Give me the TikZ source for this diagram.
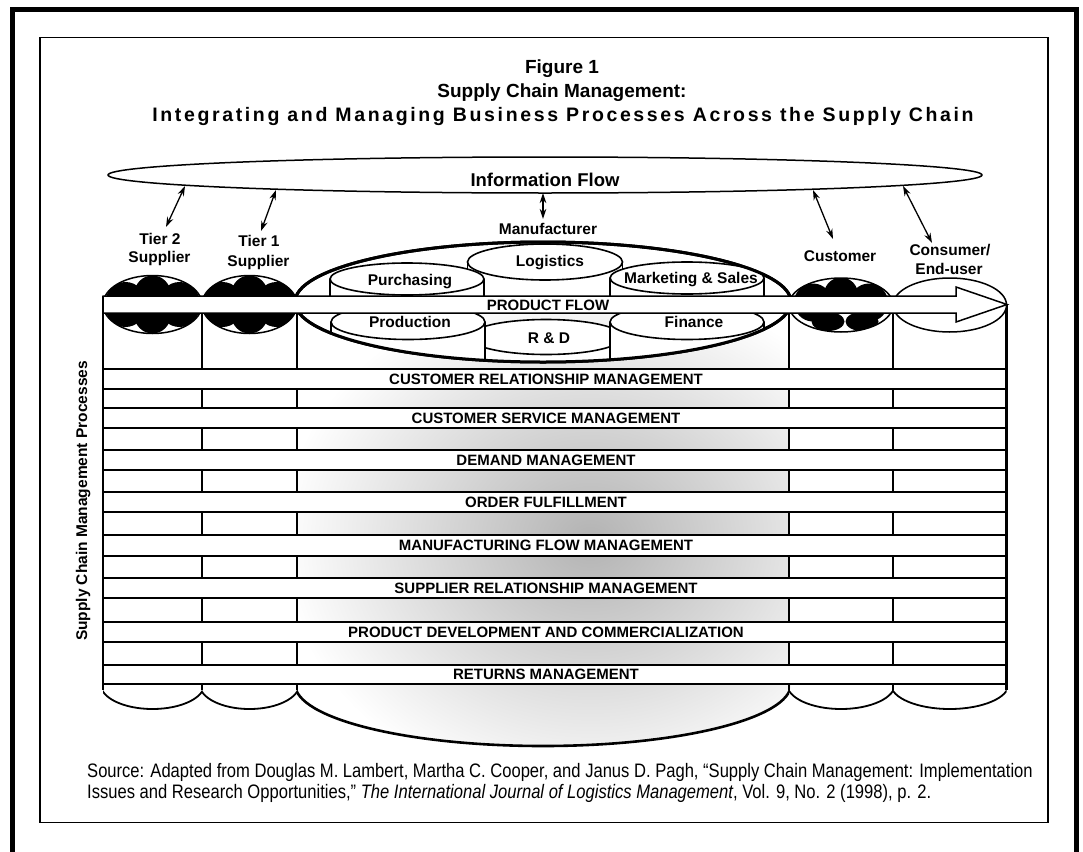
\documentclass[tikz,border=0pt]{standalone}
\usepackage{fontspec}
\setmainfont{Liberation Sans}
\newfontfamily\srcfont[FakeStretch=0.85]{Liberation Sans}
\newfontfamily\widebold[LetterSpace=13.5]{Liberation Sans}
\usetikzlibrary{arrows.meta}

\tikzset{
  ttl/.style={font=\fontsize{19}{22}\selectfont\bfseries, anchor=base, inner sep=0pt},
  lbl/.style={font=\fontsize{15.5}{18}\selectfont\bfseries, anchor=base, inner sep=0pt},
  infotxt/.style={font=\fontsize{18.5}{21}\selectfont\bfseries, anchor=base, inner sep=0pt},
  proctxt/.style={font=\fontsize{15}{17}\selectfont\bfseries, anchor=base, inner sep=0pt},
  src/.style={font=\srcfont\fontsize{19.5}{22}\selectfont, anchor=base west, inner sep=0pt},
  infoarrow/.style={{Stealth[length=10pt,width=6.5pt]}-{Stealth[length=10pt,width=6.5pt]}, line width=1.3pt},
  colline/.style={line width=1.8pt},
  thinline/.style={line width=1.5pt},
}

% column lens with dark entity blobs (supplier columns)
\newcommand{\suplens}[3]{%
  \coordinate (#3) at (#1,304.5);
  \fill[white] (#3) ellipse (#2 and 29);
  \begin{scope}
    \clip (#3) ellipse (#2 and 29);
    \fill (#1,293.5) circle (18);
    \fill ({#1-27},302) circle (20);
    \fill ({#1+27},302) circle (20);
    \fill (#1,315.5) circle (18);
    \fill ({#1-27},307) circle (20);
    \fill ({#1+27},307) circle (20);
  \end{scope}
  \draw[thinline] (#3) ellipse (#2 and 29);
}

% small cylinder: name, x, y, x radius, y radius, bottom of sides
\newcommand{\smallcyl}[6]{%
  \coordinate (#1) at (#2,#3);
  \fill[white] ({#2-#4},#3) rectangle ({#2+#4},#6);
  \draw[thinline] ({#2-#4},#3) -- ({#2-#4},#6) ({#2+#4},#3) -- ({#2+#4},#6);
  \filldraw[fill=white, line width=1.6pt] (#1) ellipse (#4 and #5);
}

\def\mfgshade{\shade[inner color=black!30, outer color=white] (590,540) ellipse (310 and 260);}

\begin{document}
\begin{tikzpicture}[x=1pt,y=-1pt]
\useasboundingbox (0,0) rectangle (1083,851);
\clip (0,0) rectangle (1083,851);

% frames
\draw[line width=5pt] (12.5,870) -- (12.5,9.5) -- (1076.5,9.5) -- (1076.5,870);
\draw[line width=1.8pt] (40.3,37.5) rectangle (1048,822.5);

% title
\node[ttl] (fig) at (562,74) {Figure 1};
\node[ttl] (ttlA) at (562,97.5) {Supply Chain Management:};
\node[ttl, font=\widebold\fontsize{19.5}{22}\selectfont\bfseries] (ttlB) at (563,121) {Integrating and Managing Business Processes Across the Supply Chain};

% information flow
\coordinate (info) at (545,175);
\draw[thinline] (info) ellipse (437 and 18);
\node[infotxt] (infot) at (545,186) {Information Flow};

% member labels
\node[lbl] (t2a) at (160,244) {Tier 2};
\node[lbl] (t2b) at (159.5,262) {Supplier};
\node[lbl] (t1a) at (259,246) {Tier 1};
\node[lbl] (t1b) at (258.5,266) {Supplier};
\node[lbl] (mfg) at (548,234.5) {Manufacturer};
\node[lbl] (cust) at (840,261) {Customer};
\node[lbl] (consa) at (950,255) {Consumer/};
\node[lbl] (consb) at (949,274) {End-user};

% information links
\coordinate (t2i) at (185,186);   \coordinate (t2l) at (166,227);
\coordinate (t1i) at (276,190);   \coordinate (t1l) at (261,231);
\coordinate (mfi) at (543,193);   \coordinate (mfl) at (543,219);
\coordinate (cui) at (813,190);   \coordinate (cul) at (833,239);
\coordinate (coi) at (903,186);   \coordinate (col) at (932,243);
\draw[infoarrow] (t2i) -- (t2l);
\draw[infoarrow] (t1i) -- (t1l);
\draw[infoarrow] (mfi) -- (mfl);
\draw[infoarrow] (cui) -- (cul);
\draw[infoarrow] (coi) -- (col);

% stippled manufacturer column
\begin{scope}\clip (297,302) rectangle (789,684); \mfgshade\end{scope}
\begin{scope}\clip (543,302) ellipse (248 and 60); \mfgshade\end{scope}
\begin{scope}\clip (543,684) ellipse (248 and 62); \mfgshade\end{scope}

% column walls
\draw[line width=2.2pt] (103,296) -- (103,690);
\draw[colline] (202,304) -- (202,690);
\draw[line width=2.2pt] (297,302) -- (297,690);
\draw[line width=2.2pt] (789,302) -- (789,690);
\draw[colline] (893,304) -- (893,690);
\draw[line width=2.2pt] (1006.5,304) -- (1006.5,690);

% column bottoms
\begin{scope}\clip (103,684) rectangle (202,740); \draw[colline] (152.5,684) ellipse (52 and 25);\end{scope}
\begin{scope}\clip (202,684) rectangle (297,740); \draw[colline] (249.5,684) ellipse (50 and 25);\end{scope}
\begin{scope}\clip (297,684) rectangle (789,760); \draw[line width=2.6pt] (543,684) ellipse (248 and 62);\end{scope}
\begin{scope}\clip (789,684) rectangle (893,740); \draw[colline] (841,684) ellipse (54 and 25);\end{scope}
\begin{scope}\clip (893,684) rectangle (1006.5,740); \draw[colline] (949.75,684) ellipse (59 and 25);\end{scope}

% manufacturer top
\draw[line width=3pt] (543,302) ellipse (248 and 60);
\smallcyl{logi}{545}{262}{77.5}{18}{296}
\smallcyl{purch}{407}{279}{77}{16}{296}
\smallcyl{mkt}{687}{278}{77}{16}{296}
\begin{scope}
  \clip (543,302) ellipse (248 and 60);
  \smallcyl{rnd}{546}{337}{77}{17.5}{370}
  \smallcyl{prod}{408}{322}{77}{17.5}{370}
  \smallcyl{fin}{687}{322}{77}{17.5}{370}
\end{scope}
\draw[line width=3pt] (543,302) ellipse (248 and 60);
\node[lbl] (logit) at (550,266) {Logistics};
\node[lbl] (purcht) at (410,285) {Purchasing};
\node[lbl] (mktt) at (691,283) {Marketing \& Sales};
\node[lbl] (prodt) at (410,327) {Production};
\node[lbl] (rndt) at (549,343) {R \& D};
\node[lbl] (fint) at (694,327) {Finance};

% supplier, customer and consumer tops
\suplens{152.5}{49.5}{tiertwo}
\suplens{249.5}{47.5}{tierone}
\coordinate (custlens) at (841,305);
\fill[white] (custlens) ellipse (52 and 27);
\begin{scope}
  \clip (custlens) ellipse (52 and 27);
  \fill (841,294.5) circle (17);
  \fill (813,302.5) circle (19);
  \fill (869,302.5) circle (19);
  \fill (828,321.5) ellipse (16.5 and 9.5);
  \fill (862,321.5) ellipse (16.5 and 9.5);
\end{scope}
\draw[thinline] (custlens) ellipse (52 and 27);
\coordinate (conslens) at (949.75,305);
\filldraw[fill=white, thinline] (conslens) ellipse (56.75 and 27);

% product flow
\filldraw[fill=white, thinline] (103,296) -- (956,296) -- (956,287) -- (1007,304.5)
  -- (956,322) -- (956,313) -- (103,313) -- cycle;
\node[proctxt] (pflow) at (548,310) {PRODUCT FLOW};

% process bars
\foreach \t/\b/\name in {
  369/389/CUSTOMER RELATIONSHIP MANAGEMENT,
  408/428/CUSTOMER SERVICE MANAGEMENT,
  450/470/DEMAND MANAGEMENT,
  492/512/ORDER FULFILLMENT,
  535/556/MANUFACTURING FLOW MANAGEMENT,
  578/598/SUPPLIER RELATIONSHIP MANAGEMENT,
  622/642/PRODUCT DEVELOPMENT AND COMMERCIALIZATION,
  665/684/RETURNS MANAGEMENT}{
  \filldraw[fill=white, line width=1.4pt] (103,\t) rectangle (1006,\b);
  \node[proctxt] (proc\t) at (546,{(\t+\b)/2+5}) {\name};
}

% side caption
\node[lbl, rotate=90] (scmp) at (87,501) {Supply Chain Management Processes};

% source
\node[src] (srcA) at (87,777) {Source: Adapted from Douglas M. Lambert, Martha C. Cooper, and Janus D. Pagh, “Supply Chain Management: Implementation};
\node[src] (srcB) at (87,798) {Issues and Research Opportunities,” {\itshape The International Journal of Logistics Management}, Vol. 9, No. 2 (1998), p. 2.};
\end{tikzpicture}
\end{document}
